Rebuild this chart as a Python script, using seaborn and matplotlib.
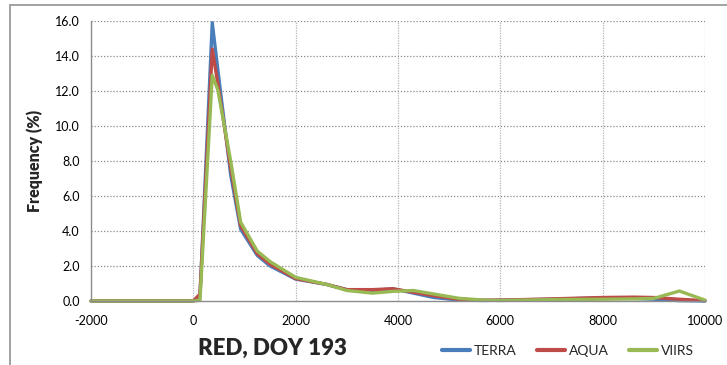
import matplotlib
matplotlib.use("Agg")
import matplotlib.pyplot as plt
import seaborn as sns
import pandas as pd
from matplotlib.patches import Rectangle

# values
red_value = [-2000, -1000, 0, 130, 370, 480, 730, 925, 1250, 1500, 2000, 2600,
             3000, 3500, 3900, 4300, 4700, 5200, 5700, 6000, 7000, 8000, 8600,
             9000, 9500, 10000]
terra = [0, 0, 0, 0.3, 15.9, 13.2, 7.2, 4.1, 2.6, 2.0, 1.25, 0.95, 0.65, 0.6,
         0.7, 0.45, 0.2, 0.05, 0.03, 0.05, 0.1, 0.18, 0.15, 0.1, 0.02, 0.0]
aqua = [0, 0, 0, 0.4, 14.4, 12.4, 7.6, 4.3, 2.7, 2.1, 1.28, 0.95, 0.65, 0.65,
        0.7, 0.5, 0.3, 0.1, 0.05, 0.05, 0.12, 0.2, 0.22, 0.2, 0.1, 0.02]
viirs = [0, 0, 0, 0.05, 12.9, 12.05, 8.0, 4.5, 2.85, 2.25, 1.35, 0.95, 0.6,
         0.45, 0.55, 0.6, 0.4, 0.15, 0.05, 0.03, 0.08, 0.1, 0.12, 0.15, 0.57,
         0.05]
sensors = ["TERRA", "AQUA", "VIIRS"]
colours = ["#4A7EBB", "#BE4B48", "#98B954"]
x_ticks = [-2000, 0, 2000, 4000, 6000, 8000, 10000]
y_ticks = [0, 2, 4, 6, 8, 10, 12, 14, 16]

# long form table for seaborn
frames = []
for name, vals in zip(sensors, [terra, aqua, viirs]):
    frames.append(pd.DataFrame({"x": red_value, "freq": vals, "sensor": name}))
df = pd.concat(frames, ignore_index=True)

sns.set_style("white")
plt.rcParams["font.family"] = ["Lato", "DejaVu Sans"]
plt.rcParams["axes.unicode_minus"] = False

fig = plt.figure(figsize=(7.27, 3.65), dpi=100)
ax = fig.add_axes([91 / 727, 1 - 301 / 365, (705 - 91) / 727, (301 - 21) / 365])

sns.lineplot(data=df, x="x", y="freq", hue="sensor", hue_order=sensors,
             palette=colours, linewidth=2.4, ax=ax, legend=True, sort=False)
for line in ax.lines:
    line.set_clip_on(False)
    line.set_solid_joinstyle("round")

ax.set_xlim(-2000, 10000)
ax.set_ylim(0, 16)
ax.set_xticks(x_ticks)
ax.set_yticks(y_ticks)
ax.set_yticklabels(["%.1f" % v for v in y_ticks])
ax.tick_params(axis="both", labelsize=9, colors="#7f7f7f", labelcolor="black",
               length=4, width=0.8, direction="out")
ax.tick_params(axis="y", pad=4)
ax.tick_params(axis="x", pad=6)

# grid: dotted horizontals, lighter verticals
ax.grid(False)
for yv in y_ticks[1:]:
    ax.axhline(yv, color="#8a8a8a", linewidth=0.9, linestyle=(0, (1, 1.5)), zorder=0)
for xv in x_ticks[1:]:
    ax.axvline(xv, color="#b5b5b5", linewidth=0.9, linestyle=(0, (1, 1)), zorder=0)

for side in ["top", "right"]:
    ax.spines[side].set_visible(False)
for side in ["left", "bottom"]:
    ax.spines[side].set_color("#8c8c8c")
    ax.spines[side].set_linewidth(1.0)

ax.set_xlabel("")
ax.set_ylabel("Frequency (%)", fontsize=11.5, fontweight="heavy", labelpad=9)

fig.text(272 / 727, 1 - 348 / 365, "RED, DOY 193", fontsize=16,
         fontweight="heavy", ha="center", va="center")

handles, labels = ax.get_legend_handles_labels()
leg = ax.legend(handles, labels, loc="center",
                bbox_to_anchor=(568 / 727, 1 - 351 / 365),
                bbox_transform=fig.transFigure, ncol=3, frameon=False,
                fontsize=10, handlelength=2.0, handletextpad=0.25,
                columnspacing=1.5)
for h in leg.get_lines():
    h.set_linewidth(3.0)

# outer chart border, cut off by the image edges
fig.patches.append(Rectangle((10 / 727, -0.1), 1.2, 1 - 5 / 365 + 0.1,
                             transform=fig.transFigure, fill=False,
                             edgecolor="#9a9a9a", linewidth=1.3))

fig.savefig("out.png", dpi=100)
